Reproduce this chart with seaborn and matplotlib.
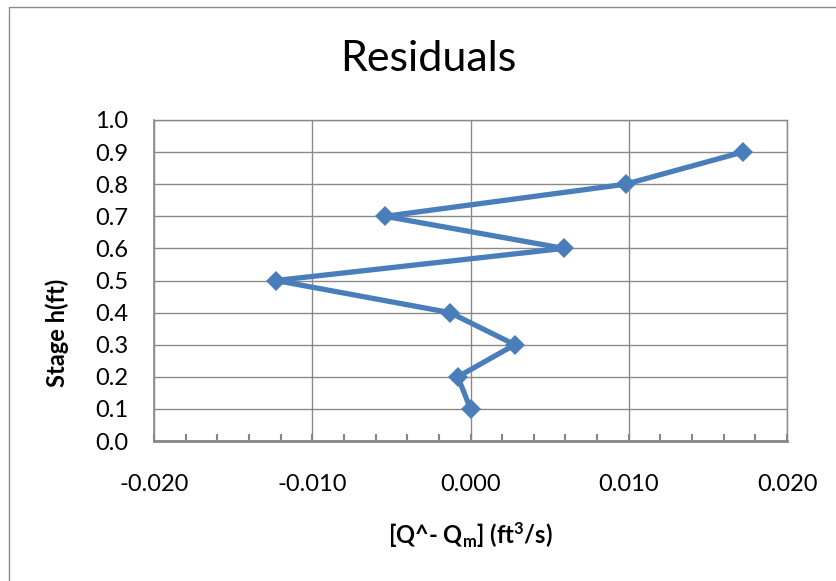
import matplotlib
matplotlib.use("Agg")
import matplotlib.pyplot as plt
import seaborn as sns
import numpy as np
import pandas as pd
from matplotlib.patches import Rectangle
from matplotlib.ticker import MultipleLocator

# ---- data ----
stage = [0.1, 0.2, 0.3, 0.4, 0.5, 0.6, 0.7, 0.8, 0.9]
residual = [0.0000, -0.0008, 0.0028, -0.0013, -0.0123, 0.0059, -0.0054, 0.0098, 0.0172]
x_ticks = [-0.020, -0.010, 0.000, 0.010, 0.020]
x_tick_labels = ["-0.020", "-0.010", "0.000", "0.010", "0.020"]
y_ticks = [0.0, 0.1, 0.2, 0.3, 0.4, 0.5, 0.6, 0.7, 0.8, 0.9, 1.0]
y_tick_labels = [f"{v:.1f}" for v in y_ticks]
title = "Residuals"
x_label = r"[Q^- Q$_{m}$] (ft$^{3}$/s)"
y_label = "Stage h(ft)"

sns.set_theme(style="white")
FONT = "Lato"
plt.rcParams["font.family"] = [FONT, "DejaVu Sans"]
plt.rcParams["mathtext.fontset"] = "custom"
plt.rcParams["mathtext.rm"] = f"{FONT}:bold"
plt.rcParams["mathtext.it"] = f"{FONT}:bold"
plt.rcParams["mathtext.bf"] = f"{FONT}:bold"

W, H = 836, 581
fig = plt.figure(figsize=(W / 100, H / 100), dpi=100)
fig.patch.set_facecolor("white")
ax = fig.add_axes([154 / W, 1 - 441 / H, (787 - 154) / W, (441 - 120) / H])

df = pd.DataFrame({"residual": residual, "stage": stage})
sns.lineplot(data=df, x="residual", y="stage", sort=False, estimator=None,
             marker="D", markersize=10.5, color="#4A7EBB", linewidth=3.8,
             markeredgewidth=0, ax=ax)

ax.set_xlim(-0.02, 0.02)
ax.set_ylim(0, 1.0)
ax.set_xticks(x_ticks)
ax.set_xticklabels(x_tick_labels)
ax.set_yticks(y_ticks)
ax.set_yticklabels(y_tick_labels)
ax.xaxis.set_minor_locator(MultipleLocator(0.002))

grid_c = "#8A8A8A"
ax.grid(True, which="major", color=grid_c, linewidth=1.0)
ax.set_axisbelow(True)
for s in ["top", "right"]:
    ax.spines[s].set_color(grid_c)
    ax.spines[s].set_linewidth(1.0)
ax.spines["left"].set_color(grid_c)
ax.spines["left"].set_linewidth(1.2)
ax.spines["bottom"].set_color("#868686")
ax.spines["bottom"].set_linewidth(2.0)

ax.tick_params(axis="x", which="minor", direction="in", length=5, width=1.5,
               color="#868686", bottom=True)
ax.tick_params(axis="x", which="major", direction="in", length=5, width=1.5,
               color="#868686", labelsize=17, pad=24, bottom=True)
ax.tick_params(axis="y", which="major", length=0, labelsize=17, pad=18.5, left=True)
for lab in ax.get_xticklabels() + ax.get_yticklabels():
    lab.set_color("black")

ax.set_xlabel("")
ax.set_ylabel("")
fig.text(470 / W, 1 - 535 / H, x_label, ha="center", va="center",
         fontsize=17, fontweight="bold", color="black")
fig.text(57 / W, 1 - 333 / H, y_label, ha="center", va="center",
         rotation=90, fontsize=17, fontweight="bold", color="black")
fig.text(428 / W, 1 - 59 / H, title, ha="center", va="center",
         fontsize=31, color="black")

fig.patches.append(Rectangle((9 / W, -0.1), 1.2, 1 - 7 / H + 0.1,
                             transform=fig.transFigure, fill=False,
                             edgecolor="#8C8C8C", linewidth=1.0))

fig.savefig("out.png", dpi=100)
